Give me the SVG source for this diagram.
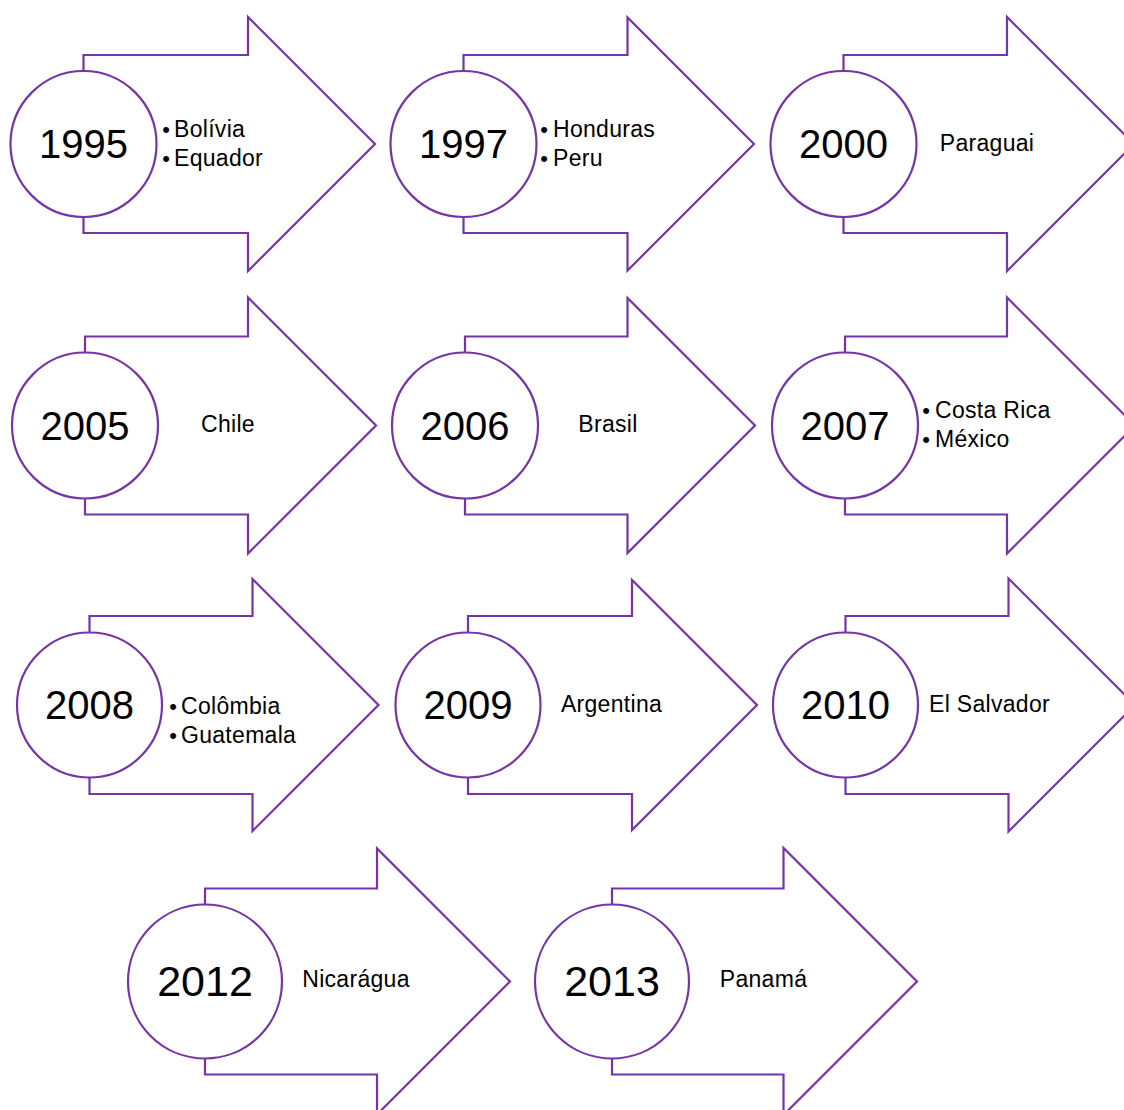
<svg xmlns="http://www.w3.org/2000/svg" width="1124" height="1110" viewBox="0 0 1124 1110">
<style>
.arr{fill:#fff;stroke:#7535A8;stroke-width:2.2;stroke-linejoin:miter}
.cir{fill:#fff;stroke:#7535A8;stroke-width:2.2}
.yr{font-family:"Liberation Sans",Arial,sans-serif;font-size:40px;text-anchor:middle;fill:#000}
.yr4{font-size:43px}
.lb{font-family:"Liberation Sans",Arial,sans-serif;font-size:23px;letter-spacing:0.3px;fill:#000}
.mid{text-anchor:middle}
.bu{font-family:"Liberation Sans",Arial,sans-serif;font-size:22px;text-anchor:middle;fill:#000}
</style>
<rect width="1124" height="1110" fill="#fff"/>
<g id="n1995">
<path class="arr" d="M83.5,55 H248 V17 L375,144 L248,271 V233 H83.5 Z"/>
<circle class="cir" cx="83.5" cy="144" r="73"/>
<text class="yr" x="83.5" y="158">1995</text>
<text class="bu" x="166" y="137">•</text><text class="lb" x="174" y="137">Bolívia</text>
<text class="bu" x="166" y="166">•</text><text class="lb" x="174" y="166">Equador</text>
</g>
<g id="n1997">
<path class="arr" d="M463.5,55 H627.5 V17.5 L754,144 L627.5,270.5 V233 H463.5 Z"/>
<circle class="cir" cx="463.5" cy="144" r="73"/>
<text class="yr" x="463.5" y="158">1997</text>
<text class="bu" x="544" y="137">•</text><text class="lb" x="553" y="137">Honduras</text>
<text class="bu" x="544" y="166">•</text><text class="lb" x="553" y="166">Peru</text>
</g>
<g id="n2000">
<path class="arr" d="M843.5,55 H1007 V17 L1134,144 L1007,271 V233 H843.5 Z"/>
<circle class="cir" cx="843.5" cy="144" r="73"/>
<text class="yr" x="843.5" y="158">2000</text>
<text class="lb mid" x="987" y="151">Paraguai</text>
</g>
<g id="n2005">
<path class="arr" d="M85,336.5 H248 V297.5 L376,425.5 L248,553.5 V514.5 H85 Z"/>
<circle class="cir" cx="85" cy="425.5" r="73"/>
<text class="yr" x="85" y="439.5">2005</text>
<text class="lb mid" x="228" y="432">Chile</text>
</g>
<g id="n2006">
<path class="arr" d="M465,336.5 H627.5 V298 L755,425.5 L627.5,553 V514.5 H465 Z"/>
<circle class="cir" cx="465" cy="425.5" r="73"/>
<text class="yr" x="465" y="439.5">2006</text>
<text class="lb mid" x="608" y="432">Brasil</text>
</g>
<g id="n2007">
<path class="arr" d="M845,336.5 H1007 V297.5 L1135,425.5 L1007,553.5 V514.5 H845 Z"/>
<circle class="cir" cx="845" cy="425.5" r="73"/>
<text class="yr" x="845" y="439.5">2007</text>
<text class="bu" x="926" y="418">•</text><text class="lb" x="935" y="418">Costa Rica</text>
<text class="bu" x="926" y="447">•</text><text class="lb" x="935" y="447">México</text>
</g>
<g id="n2008">
<path class="arr" d="M89.5,616 H252.5 V579 L378.5,705 L252.5,831 V794 H89.5 Z"/>
<circle class="cir" cx="89.5" cy="705" r="72.5"/>
<text class="yr" x="89.5" y="719">2008</text>
<text class="bu" x="173" y="714">•</text><text class="lb" x="181" y="714">Colômbia</text>
<text class="bu" x="173" y="743">•</text><text class="lb" x="181" y="743">Guatemala</text>
</g>
<g id="n2009">
<path class="arr" d="M468,616 H632 V580 L757,705 L632,830 V794 H468 Z"/>
<circle class="cir" cx="468" cy="705" r="72.5"/>
<text class="yr" x="468" y="719">2009</text>
<text class="lb mid" x="611.5" y="712">Argentina</text>
</g>
<g id="n2010">
<path class="arr" d="M845.5,616 H1008.5 V578.5 L1135,705 L1008.5,831.5 V794 H845.5 Z"/>
<circle class="cir" cx="845.5" cy="705" r="72.5"/>
<text class="yr" x="845.5" y="719">2010</text>
<text class="lb mid" x="989.5" y="712">El Salvador</text>
</g>
<g id="n2012">
<path class="arr" d="M205,888.5 H377 V848.5 L510,981.5 L377,1114.5 V1074.5 H205 Z"/>
<circle class="cir" cx="205" cy="981.5" r="77"/>
<text class="yr yr4" x="205" y="996">2012</text>
<text class="lb mid" x="356" y="987">Nicarágua</text>
</g>
<g id="n2013">
<path class="arr" d="M612,888.5 H783.5 V848 L917,981.5 L783.5,1115 V1074.5 H612 Z"/>
<circle class="cir" cx="612" cy="981.5" r="77"/>
<text class="yr yr4" x="612" y="996">2013</text>
<text class="lb mid" x="763.5" y="987">Panamá</text>
</g>
</svg>
